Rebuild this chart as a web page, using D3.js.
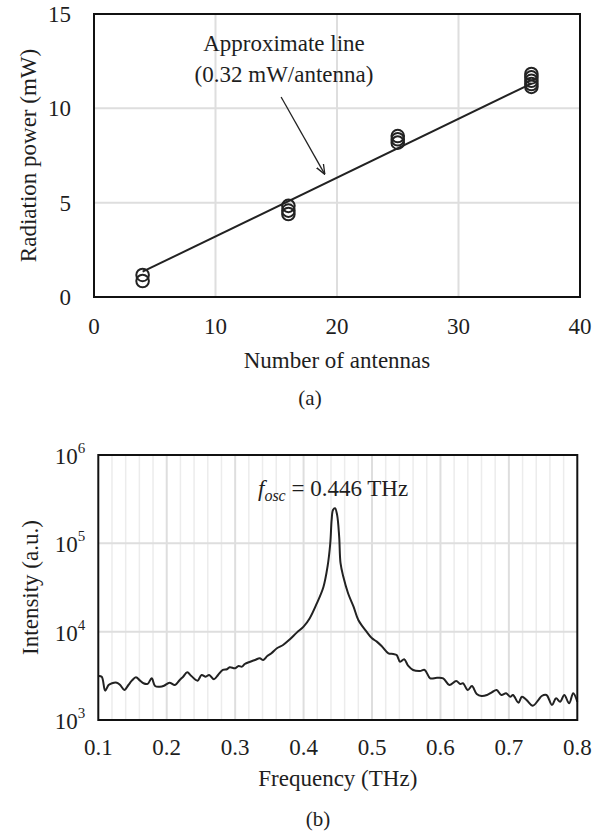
<!DOCTYPE html>
<html>
<head>
<meta charset="utf-8">
<script src="https://cdn.jsdelivr.net/npm/d3@7"></script>
<style>
html,body{margin:0;padding:0;background:#fff;}
</style>
</head>
<body>
<svg id="chart" width="611" height="835"></svg>
<script>
// ---------- Data: panel (a) ----------
const antennaCounts = [4, 4, 16, 16, 16, 25, 25, 25, 36, 36, 36, 36, 36];
const radiationPower = [1.17, 0.85, 4.83, 4.58, 4.40, 8.53, 8.36, 8.18, 11.82, 11.64, 11.46, 11.29, 11.14];
const fitX = [4, 36];
const fitY = [1.34, 11.31];
const xTicksA = [0, 10, 20, 30, 40];
const yTicksA = [0, 5, 10, 15];
const arrowFrom = [15.4, 10.6];
const arrowTo = [19.0, 6.5];

// ---------- Data: panel (b) ----------
const frequency = [0.100,0.105,0.110,0.115,0.120,0.127,0.132,0.138,0.144,0.149,0.155,0.161,0.166,0.172,0.178,0.183,0.190,0.196,0.204,0.212,0.219,0.224,0.230,0.236,0.245,0.251,0.257,0.262,0.269,0.275,0.282,0.288,0.292,0.300,0.305,0.310,0.314,0.322,0.329,0.336,0.341,0.347,0.353,0.361,0.370,0.380,0.390,0.400,0.409,0.419,0.429,0.435,0.439,0.441,0.443,0.446,0.449,0.452,0.454,0.458,0.465,0.473,0.480,0.492,0.500,0.507,0.514,0.524,0.531,0.536,0.541,0.547,0.553,0.560,0.570,0.577,0.585,0.595,0.604,0.613,0.623,0.629,0.633,0.640,0.646,0.653,0.660,0.668,0.675,0.682,0.689,0.696,0.702,0.706,0.714,0.719,0.726,0.735,0.743,0.748,0.755,0.763,0.769,0.775,0.781,0.788,0.794,0.800];
const intensity = [3150,3090,2150,2490,2610,2645,2490,2190,2490,2790,3045,2790,2605,2560,2965,2425,2385,2445,2640,2490,2840,3090,3465,3150,2790,3235,3090,3235,2890,3235,3685,3750,3955,3850,4090,4020,4305,4570,4780,5000,4780,5310,5690,6485,7070,8200,9750,11400,14200,20600,32100,54500,100200,184000,239000,249500,210000,119000,59600,42000,27200,19200,13570,10000,8420,7710,6890,5690,5590,5445,4570,4865,4090,3685,3590,3685,2965,3010,2965,2490,2765,2560,2605,2185,2425,1970,1870,1920,2060,2190,1920,2005,1835,1920,1570,1835,1680,1450,1680,1870,1920,1480,1760,1610,1920,1545,2005,1610];
const xTicksB = [0.1, 0.2, 0.3, 0.4, 0.5, 0.6, 0.7, 0.8];
const xMinorB = d3.range(0.12, 0.8, 0.02).filter(v => Math.abs(v*10 - Math.round(v*10)) > 1e-6);
const yExponentsB = [3, 4, 5, 6];

const svg = d3.select("#chart");
const FONT = '"Liberation Serif", "Tinos", "Times New Roman"';
const FS = 23;
const TXT = "#1e1e1e";
const gridCol = "#dedede";

function addText(parent, x, y, str, size, anchor) {
  return parent.append("text")
    .attr("x", x).attr("y", y)
    .attr("text-anchor", anchor || "middle")
    .attr("font-size", size || FS)
    .attr("fill", TXT)
    .style("font-family", FONT)
    .text(str);
}

// ================= Panel (a) =================
const xA = d3.scaleLinear().domain([0, 40]).range([94, 580]);
const yA = d3.scaleLinear().domain([0, 15]).range([297, 14]);
const gA = svg.append("g");

gA.selectAll(".vg").data(xTicksA.slice(1, -1)).enter().append("line")
  .attr("x1", d => xA(d)).attr("x2", d => xA(d))
  .attr("y1", yA(0)).attr("y2", yA(15))
  .attr("stroke", gridCol).attr("stroke-width", 2);
gA.selectAll(".hg").data(yTicksA.slice(1, -1)).enter().append("line")
  .attr("x1", xA(0)).attr("x2", xA(40))
  .attr("y1", d => yA(d)).attr("y2", d => yA(d))
  .attr("stroke", gridCol).attr("stroke-width", 2);

gA.append("rect").attr("x", xA(0)).attr("y", yA(15))
  .attr("width", xA(40) - xA(0)).attr("height", yA(0) - yA(15))
  .attr("fill", "none").attr("stroke", "#111").attr("stroke-width", 2);

xTicksA.forEach(d => addText(gA, xA(d), yA(0) + 37, d));
yTicksA.forEach(d => addText(gA, xA(0) - 23, yA(d) + 8, d, FS, "end"));

addText(gA, (xA(0) + xA(40)) / 2, 368, "Number of antennas");
addText(gA, 0, 0, "Radiation power (mW)")
  .attr("transform", `translate(36,${(yA(0) + yA(15)) / 2}) rotate(-90)`);
addText(gA, 310, 405, "(a)", 21);

// fit line
gA.append("path")
  .datum(fitX.map((x, i) => [x, fitY[i]]))
  .attr("d", d3.line().x(d => xA(d[0])).y(d => yA(d[1])))
  .attr("fill", "none").attr("stroke", "#222").attr("stroke-width", 2);

// points
gA.selectAll(".pt").data(antennaCounts.map((x, i) => [x, radiationPower[i]])).enter()
  .append("circle")
  .attr("cx", d => xA(d[0])).attr("cy", d => yA(d[1])).attr("r", 6.3)
  .attr("fill", "none").attr("stroke", "#222").attr("stroke-width", 2);

// annotation
addText(gA, 284, 51, "Approximate line");
addText(gA, 284, 82, "(0.32 mW/antenna)");
svg.append("defs").append("marker").attr("id", "arr")
  .attr("viewBox", "0 0 10 10").attr("refX", 10).attr("refY", 5)
  .attr("markerWidth", 10).attr("markerHeight", 10).attr("markerUnits", "userSpaceOnUse")
  .attr("orient", "auto")
  .append("path").attr("d", "M0,1 L10,5 L0,9").attr("fill", "none").attr("stroke", "#222").attr("stroke-width", 1.3);
gA.append("line")
  .attr("x1", xA(arrowFrom[0])).attr("y1", yA(arrowFrom[1]))
  .attr("x2", xA(arrowTo[0])).attr("y2", yA(arrowTo[1]))
  .attr("stroke", "#222").attr("stroke-width", 1.3).attr("marker-end", "url(#arr)");

// ================= Panel (b) =================
const xB = d3.scaleLinear().domain([0.1, 0.8]).range([98.3, 577.3]);
const yB = d3.scaleLog().domain([1e3, 1e6]).range([720, 455]);
const gB = svg.append("g");

gB.selectAll(".vmin").data(xMinorB).enter().append("line")
  .attr("x1", d => xB(d)).attr("x2", d => xB(d))
  .attr("y1", yB(1e3)).attr("y2", yB(1e6))
  .attr("stroke", "#ececec").attr("stroke-width", 1.5);
gB.selectAll(".vmaj").data(xTicksB.slice(1, -1)).enter().append("line")
  .attr("x1", d => xB(d)).attr("x2", d => xB(d))
  .attr("y1", yB(1e3)).attr("y2", yB(1e6))
  .attr("stroke", gridCol).attr("stroke-width", 2);
gB.selectAll(".hmaj").data(yExponentsB.slice(1, -1)).enter().append("line")
  .attr("x1", xB(0.1)).attr("x2", xB(0.8))
  .attr("y1", d => yB(Math.pow(10, d))).attr("y2", d => yB(Math.pow(10, d)))
  .attr("stroke", gridCol).attr("stroke-width", 2);

gB.append("path")
  .datum(frequency.map((f, i) => [f, intensity[i]]))
  .attr("d", d3.line().x(d => xB(d[0])).y(d => yB(d[1])).curve(d3.curveCatmullRom.alpha(0.5)))
  .attr("fill", "none").attr("stroke", "#222").attr("stroke-width", 2);

gB.append("rect").attr("x", xB(0.1)).attr("y", yB(1e6))
  .attr("width", xB(0.8) - xB(0.1)).attr("height", yB(1e3) - yB(1e6))
  .attr("fill", "none").attr("stroke", "#111").attr("stroke-width", 2);

xTicksB.forEach(d => addText(gB, xB(d), yB(1e3) + 35, d.toFixed(1)));
yExponentsB.forEach(d => {
  const t = addText(gB, xB(0.1) - 13, yB(Math.pow(10, d)) + 9, "", FS, "end");
  t.append("tspan").text("10");
  t.append("tspan").attr("dy", -11).attr("font-size", 15).text(d);
});

addText(gB, (xB(0.1) + xB(0.8)) / 2, 786, "Frequency (THz)");
addText(gB, 0, 0, "Intensity (a.u.)")
  .attr("transform", `translate(38,${(yB(1e3) + yB(1e6)) / 2}) rotate(-90)`);
addText(gB, 318, 826, "(b)", 21);

const ann = addText(gB, 258, 496, "", FS, "start");
ann.append("tspan").attr("font-style", "italic").text("f");
ann.append("tspan").attr("font-style", "italic").attr("font-size", 16).attr("dy", 5).text("osc");
ann.append("tspan").attr("dy", -5).text(" = 0.446 THz");
</script>
</body>
</html>
